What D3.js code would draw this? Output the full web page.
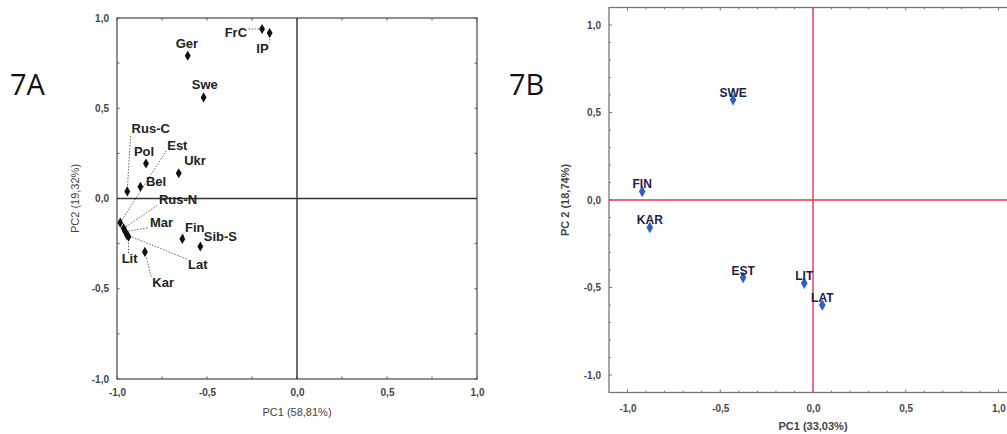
<!DOCTYPE html>
<html>
<head>
<meta charset="utf-8">
<script src="https://cdn.jsdelivr.net/npm/d3@7"></script>
<style>
  html, body { margin: 0; padding: 0; background: #fff; }
  svg { display: block; font-family: "Liberation Sans", Arial, sans-serif; }
</style>
</head>
<body>
<svg id="chart" width="1007" height="434"></svg>
<script>
// --- Data: panel 7A ---
const groupsA = ['FrC', 'IP', 'Ger', 'Swe', 'Pol', 'Ukr', 'Rus-C', 'Bel', 'Est', 'Rus-N', 'Mar', 'Lat', 'Lit', 'Fin', 'Sib-S', 'Kar'];
const pc1A = [-0.194, -0.152, -0.607, -0.519, -0.839, -0.657, -0.943, -0.870, -0.982, -0.963, -0.954, -0.945, -0.936, -0.637, -0.537, -0.845];
const pc2A = [0.939, 0.917, 0.791, 0.560, 0.194, 0.140, 0.039, 0.065, -0.134, -0.165, -0.184, -0.202, -0.212, -0.224, -0.266, -0.296];
// where each name sits (data units, text baseline); dotted leader drawn when flagged
const labelXA = [-0.402, -0.226, -0.612, -0.512, -0.906, -0.627, -0.919, -0.839, -0.721, -0.767, -0.817, -0.605, -0.974, -0.622, -0.518, -0.804];
const labelYA = [0.896, 0.808, 0.832, 0.607, 0.235, 0.186, 0.361, 0.069, 0.269, -0.030, -0.156, -0.392, -0.359, -0.184, -0.237, -0.489];
const leaderA = [true, true, false, false, false, false, true, false, true, true, true, true, true, true, false, true];

// --- Data: panel 7B ---
const groupsB = ['SWE', 'FIN', 'KAR', 'EST', 'LIT', 'LAT'];
const pc1B = [-0.431, -0.921, -0.880, -0.377, -0.047, 0.050];
const pc2B = [0.573, 0.049, -0.157, -0.443, -0.476, -0.600];

const ticksMain = [-1, -0.5, 0, 0.5, 1];
const fmt = d => d3.format('.1f')(d).replace('.', ',').replace('−', '-');

const svg = d3.select('#chart');

// ============================================================
// Panel 7A
// ============================================================
(function() {
  const x = d3.scaleLinear().domain([-1, 1]).range([117, 477]);
  const y = d3.scaleLinear().domain([-1, 1]).range([379, 18]);
  const g = svg.append('g');

  g.append('text').attr('x', 10).attr('y', 95)
    .attr('font-size', 29).attr('fill', '#111')
    .attr('font-family', '"Open Sans", "Liberation Sans", sans-serif')
    .text('7A');

  // frame
  g.append('rect').attr('x', x(-1)).attr('y', y(1))
    .attr('width', x(1) - x(-1)).attr('height', y(-1) - y(1))
    .attr('fill', 'none').attr('stroke', '#555').attr('stroke-width', 1.3);

  // small inward ticks
  const minor = d3.range(-1, 1.01, 0.25);
  minor.forEach(t => {
    g.append('line').attr('x1', x(t)).attr('x2', x(t)).attr('y1', y(1)).attr('y2', y(1) + 2.5).attr('stroke', '#555');
    g.append('line').attr('x1', x(t)).attr('x2', x(t)).attr('y1', y(-1)).attr('y2', y(-1) - 2.5).attr('stroke', '#555');
    g.append('line').attr('y1', y(t)).attr('y2', y(t)).attr('x1', x(-1)).attr('x2', x(-1) + 2.5).attr('stroke', '#555');
    g.append('line').attr('y1', y(t)).attr('y2', y(t)).attr('x1', x(1)).attr('x2', x(1) - 2.5).attr('stroke', '#555');
  });

  // zero lines
  g.append('line').attr('x1', x(-1)).attr('x2', x(1)).attr('y1', y(0)).attr('y2', y(0))
    .attr('stroke', '#333').attr('stroke-width', 1.4);
  g.append('line').attr('x1', x(0)).attr('x2', x(0)).attr('y1', y(1)).attr('y2', y(-1))
    .attr('stroke', '#333').attr('stroke-width', 1.4);

  // axes labels
  const xAxis = d3.axisBottom(x).tickValues(ticksMain).tickFormat(fmt).tickSize(0).tickPadding(10);
  const yAxis = d3.axisLeft(y).tickValues(ticksMain).tickFormat(fmt).tickSize(0).tickPadding(8);
  const gx = g.append('g').attr('transform', `translate(0,${y(-1)})`).call(xAxis);
  const gy = g.append('g').attr('transform', `translate(${x(-1)},0)`).call(yAxis);
  [gx, gy].forEach(a => {
    a.select('.domain').remove();
    a.selectAll('text').attr('font-size', 10).attr('font-weight', 'bold').attr('fill', '#444');
  });

  g.append('text').attr('x', x(0)).attr('y', 416).attr('text-anchor', 'middle')
    .attr('font-size', 11).attr('fill', '#444').text('PC1 (58,81%)');
  g.append('text').attr('transform', `translate(79,${y(0)}) rotate(-90)`).attr('text-anchor', 'middle')
    .attr('font-size', 11).attr('fill', '#444').text('PC2 (19,32%)');

  const pts = groupsA.map((name, i) => ({ name, px: pc1A[i], py: pc2A[i], lx: labelXA[i], ly: labelYA[i], leader: leaderA[i] }));

  // names first, so leaders can aim at their boxes
  const labels = g.selectAll('.lbl').data(pts).enter().append('text')
    .attr('x', d => x(d.lx)).attr('y', d => y(d.ly))
    .attr('text-anchor', d => (d.name === 'Ger' || d.name === 'Swe') ? 'middle' : 'start')
    .attr('font-size', 13).attr('font-weight', 'bold').attr('fill', '#222')
    .text(d => d.name);

  labels.each(function(d) {
    if (!d.leader) return;
    const b = this.getBBox();
    const top = b.y + 2, bottom = b.y + b.height - 2;
    const sx = x(d.px), sy = y(d.py);
    const ex = Math.max(b.x - 1, Math.min(sx, b.x + b.width + 1));
    const ey = Math.max(top, Math.min(sy, bottom));
    g.insert('line', 'text')
      .attr('x1', sx).attr('y1', sy).attr('x2', ex).attr('y2', ey)
      .attr('stroke', '#555').attr('stroke-width', 0.9).attr('stroke-dasharray', '1.5,1.5');
  });

  // diamonds
  g.selectAll('.pt').data(pts).enter().append('path')
    .attr('d', d3.symbol(d3.symbolDiamond, 30))
    .attr('transform', d => `translate(${x(d.px)},${y(d.py)})`)
    .attr('fill', '#111');
})();

// ============================================================
// Panel 7B
// ============================================================
(function() {
  const x = d3.scaleLinear().domain([-1.1, 1.1]).range([609, 1017]);
  const y = d3.scaleLinear().domain([-1.1, 1.1]).range([392.5, 7.5]);
  const g = svg.append('g');

  g.append('text').attr('x', 509).attr('y', 95)
    .attr('font-size', 29).attr('fill', '#111')
    .attr('font-family', '"Open Sans", "Liberation Sans", sans-serif')
    .text('7B');

  g.append('rect').attr('x', x(-1.1)).attr('y', y(1.1))
    .attr('width', x(1.1) - x(-1.1)).attr('height', y(-1.1) - y(1.1))
    .attr('fill', 'none').attr('stroke', '#777').attr('stroke-width', 1.3);

  const minor = d3.range(-10, 11).map(i => i / 10);
  minor.forEach(t => {
    const len = (Math.round(t * 10) % 5 === 0) ? 3 : 1.8;
    g.append('line').attr('x1', x(t)).attr('x2', x(t)).attr('y1', y(-1.1)).attr('y2', y(-1.1) - len).attr('stroke', '#777');
    g.append('line').attr('x1', x(t)).attr('x2', x(t)).attr('y1', y(1.1)).attr('y2', y(1.1) + len).attr('stroke', '#777');
    g.append('line').attr('y1', y(t)).attr('y2', y(t)).attr('x1', x(-1.1)).attr('x2', x(-1.1) + len).attr('stroke', '#777');
  });

  g.append('line').attr('x1', x(-1.1)).attr('x2', x(1.1)).attr('y1', y(0)).attr('y2', y(0))
    .attr('stroke', '#e8344e').attr('stroke-width', 1.4);
  g.append('line').attr('x1', x(0)).attr('x2', x(0)).attr('y1', y(1.1)).attr('y2', y(-1.1))
    .attr('stroke', '#e8344e').attr('stroke-width', 1.4);

  const xAxis = d3.axisBottom(x).tickValues(ticksMain).tickFormat(fmt).tickSize(0).tickPadding(12);
  const yAxis = d3.axisLeft(y).tickValues(ticksMain).tickFormat(fmt).tickSize(0).tickPadding(8);
  const gx = g.append('g').attr('transform', `translate(0,${y(-1.1)})`).call(xAxis);
  const gy = g.append('g').attr('transform', `translate(${x(-1.1)},0)`).call(yAxis);
  [gx, gy].forEach(a => {
    a.select('.domain').remove();
    a.selectAll('text').attr('font-size', 10).attr('font-weight', 'bold').attr('fill', '#4a4a4a');
  });

  g.append('text').attr('x', x(0)).attr('y', 430).attr('text-anchor', 'middle')
    .attr('font-size', 11).attr('font-weight', 'bold').attr('fill', '#444').text('PC1 (33,03%)');
  g.append('text').attr('transform', `translate(569,${y(0)}) rotate(-90)`).attr('text-anchor', 'middle')
    .attr('font-size', 11).attr('font-weight', 'bold').attr('fill', '#444').text('PC 2 (18,74%)');

  const pts = groupsB.map((name, i) => ({ name, px: pc1B[i], py: pc2B[i] }));

  g.selectAll('.pt').data(pts).enter().append('path')
    .attr('d', d3.symbol(d3.symbolDiamond, 38))
    .attr('transform', d => `translate(${x(d.px)},${y(d.py)})`)
    .attr('fill', '#2f5fc4');

  g.selectAll('.lbl').data(pts).enter().append('text')
    .attr('x', d => x(d.px)).attr('y', d => y(d.py) - 3)
    .attr('text-anchor', 'middle')
    .attr('font-size', 12).attr('font-weight', 'bold').attr('fill', '#1e2146')
    .text(d => d.name);
})();
</script>
</body>
</html>
